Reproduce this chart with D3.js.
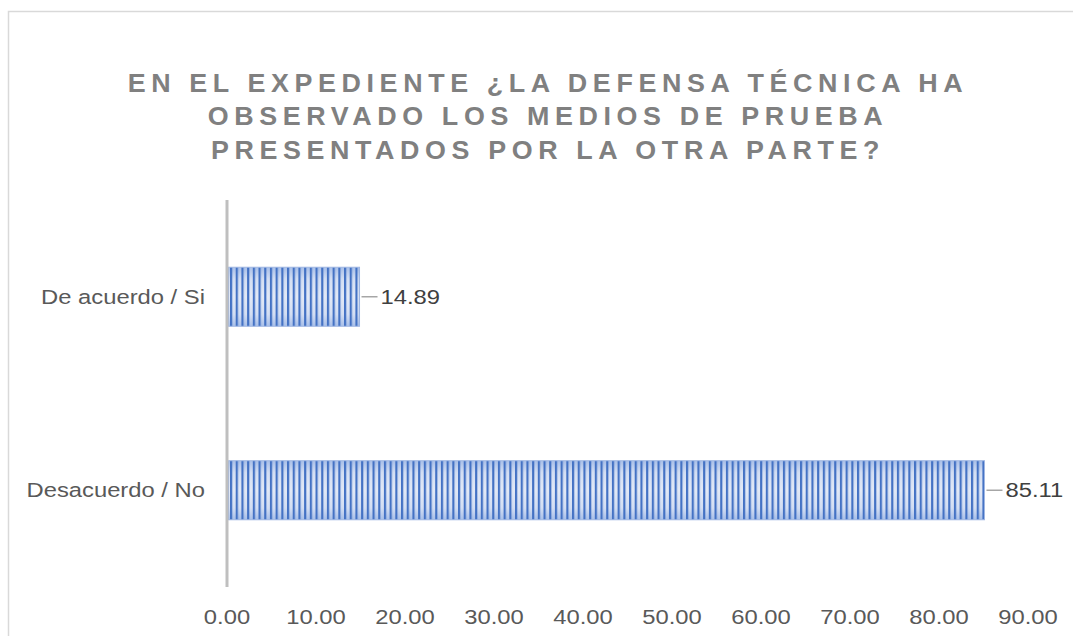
<!doctype html>
<html lang="es">
<head>
<meta charset="utf-8">
<title>Defensa técnica</title>
<script src="https://d3js.org/d3.v7.min.js"></script>
<style>
  body { margin: 0; background: #fff; }
  svg { display: block; font-family: "Liberation Sans", Arial, sans-serif; }
</style>
</head>
<body>
<div id="chart"></div>
<script>
// data
const categories = ["De acuerdo / Si", "Desacuerdo / No"];
const values = [14.89, 85.11];
const ticks = [0, 10, 20, 30, 40, 50, 60, 70, 80, 90];
const titleLines = [
  "EN EL EXPEDIENTE ¿LA DEFENSA TÉCNICA HA",
  "OBSERVADO LOS MEDIOS DE PRUEBA",
  "PRESENTADOS POR LA OTRA PARTE?"
];

const width = 1073, height = 636;
const sx = 1.22; // the picture's text is a bit wider than tall
const svg = d3.select("#chart").append("svg")
    .attr("width", width)
    .attr("height", height);

// chart frame
svg.append("rect")
    .attr("x", 8.5).attr("y", 11.5)
    .attr("width", 1100).attr("height", 700)
    .attr("fill", "#fff")
    .attr("stroke", "#d9d9d9")
    .attr("stroke-width", 1.5);

// title
svg.append("g").selectAll("text")
    .data(titleLines)
    .join("text")
    .attr("transform", (d, i) => `translate(548,${91.5 + i * 33.5}) scale(1.12,1.05)`)
    .attr("text-anchor", "middle")
    .attr("font-size", 24)
    .attr("font-weight", "bold")
    .attr("letter-spacing", 5)
    .attr("fill", "#808080")
    .text(d => d);

// scales
const x = d3.scaleLinear().domain([0, 90]).range([227, 1028]);
const y = d3.scaleBand().domain(categories).range([200, 587]).paddingInner(0.695).paddingOuter(0.3475);

// bar fill: gradient + vertical stripes
const defs = svg.append("defs");
const grad = defs.append("linearGradient")
    .attr("id", "barGrad").attr("x1", 0).attr("y1", 0).attr("x2", 0).attr("y2", 1);
grad.append("stop").attr("offset", "0%").attr("stop-color", "#a8bfe8");
grad.append("stop").attr("offset", "20%").attr("stop-color", "#d3def3");
grad.append("stop").attr("offset", "50%").attr("stop-color", "#e2e9f6");
grad.append("stop").attr("offset", "80%").attr("stop-color", "#d3def3");
grad.append("stop").attr("offset", "100%").attr("stop-color", "#a8bfe8");

const pat = defs.append("pattern")
    .attr("id", "stripes")
    .attr("patternUnits", "userSpaceOnUse")
    .attr("x", x(0) + 3).attr("y", 0)
    .attr("width", 5.7).attr("height", 10);
pat.append("rect")
    .attr("x", 0).attr("y", 0).attr("width", 2.2).attr("height", 10)
    .attr("fill", "#4472c4");

const bars = svg.append("g");
bars.selectAll("rect.base")
    .data(values)
    .join("rect")
    .attr("class", "base")
    .attr("x", x(0) + 1.5)
    .attr("y", (d, i) => y(categories[i]))
    .attr("width", d => x(d) - x(0) - 1.5)
    .attr("height", y.bandwidth())
    .attr("fill", "url(#barGrad)");
bars.selectAll("rect.stripe")
    .data(values)
    .join("rect")
    .attr("class", "stripe")
    .attr("x", x(0) + 1.5)
    .attr("y", (d, i) => y(categories[i]))
    .attr("width", d => x(d) - x(0) - 1.5)
    .attr("height", y.bandwidth())
    .attr("fill", "url(#stripes)")
    .attr("stroke", "#9fb6e2")
    .attr("stroke-width", 1);

// vertical axis line
svg.append("line")
    .attr("x1", x(0)).attr("x2", x(0))
    .attr("y1", 200).attr("y2", 587)
    .attr("stroke", "#bfbfbf")
    .attr("stroke-width", 3);

// category labels
svg.append("g").selectAll("text")
    .data(categories)
    .join("text")
    .attr("transform", d => `translate(205,${y(d) + y.bandwidth() / 2}) scale(${sx},1)`)
    .attr("dy", "0.35em")
    .attr("text-anchor", "end")
    .attr("font-size", 19.5)
    .attr("fill", "#595959")
    .text(d => d);

// x tick labels
svg.append("g").selectAll("text")
    .data(ticks)
    .join("text")
    .attr("transform", d => `translate(${x(d)},624) scale(${sx},1)`)
    .attr("text-anchor", "middle")
    .attr("font-size", 19.5)
    .attr("fill", "#595959")
    .text(d => d3.format(".2f")(d));

// data labels with leader lines
const lbl = svg.append("g");
lbl.selectAll("line")
    .data(values)
    .join("line")
    .attr("x1", d => x(d) + 2)
    .attr("x2", d => x(d) + 18)
    .attr("y1", (d, i) => y(categories[i]) + y.bandwidth() / 2)
    .attr("y2", (d, i) => y(categories[i]) + y.bandwidth() / 2)
    .attr("stroke", "#a6a6a6")
    .attr("stroke-width", 1.5);
lbl.selectAll("text")
    .data(values)
    .join("text")
    .attr("transform", (d, i) => `translate(${x(d) + 21},${y(categories[i]) + y.bandwidth() / 2}) scale(${sx},1)`)
    .attr("dy", "0.35em")
    .attr("font-size", 19.5)
    .attr("fill", "#404040")
    .text(d => d3.format(".2f")(d));
</script>
</body>
</html>
